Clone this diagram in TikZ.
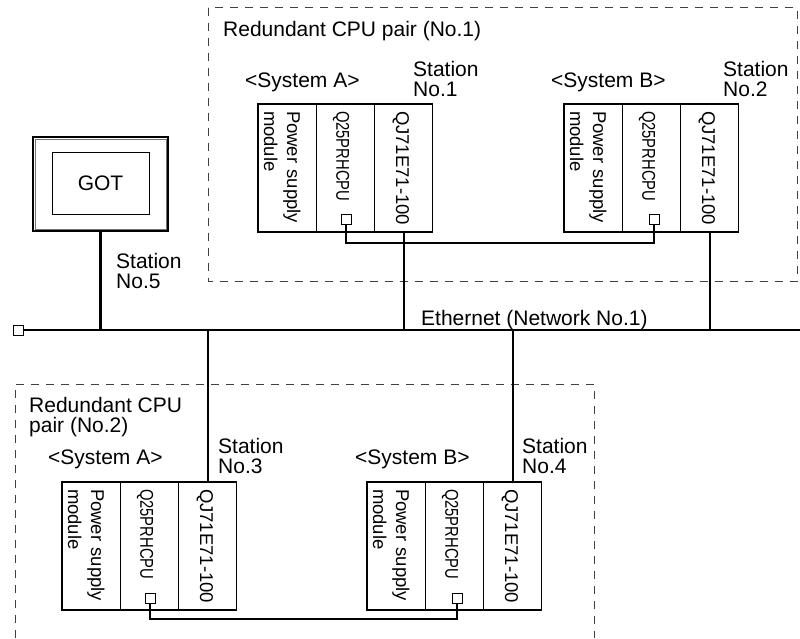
\documentclass[tikz,border=0pt]{standalone}
\usepackage{fontspec}
\setmainfont{Liberation Sans}
\usetikzlibrary{positioning}
\newcommand{\lblfont}{\fontsize{21}{20}\selectfont}
\newcommand{\modfont}{\fontsize{18.5}{23}\selectfont}
\newcommand{\cpuname}{\scalebox{0.8}[1]{Q25PRHCPU}}

\begin{document}
\begin{tikzpicture}[x=1pt, y=-1pt,
  slot/.style={draw, line width=1.1pt, rotate=-90, minimum width=128pt, minimum height=58.3pt,
    inner xsep=7pt, inner ysep=0pt, text width=114pt, align=left, font=\modfont},
  psu/.style={slot, text height=23.4pt},
  cpu/.style={slot, text height=19pt, text depth=0.6pt},
  enet/.style={slot, text height=19pt},
  port/.style={draw, line width=1pt, minimum size=10pt, inner sep=0pt, fill=white},
  link/.style={line width=2.4pt},
  lbl/.style={inner sep=0pt, font=\lblfont, align=left},
  pairbox/.style={draw=black!75, line width=0.9pt, dash pattern=on 8pt off 7pt}]
\useasboundingbox (0,0) rectangle (800,638);
% redundant pair No.1
\draw[pairbox] (208,7.5) rectangle (797,281);
\node[lbl, anchor=base west] (pair1) at (223,36) {Redundant CPU pair (No.1)};
\node[lbl, anchor=base west] (a1sys) at (245,87) {<System A>};
\node[lbl, anchor=north west] (st1) at (413,61) {Station\\No.1};
\node[psu] (a1ps) at (287.15,168) {Power supply\\module};
\node[cpu] (a1cpu) at (345.45,168) {\cpuname};
\node[enet] (a1et) at (403.75,168) {\mbox{QJ71E71-100}};
\node[port] (a1port) at (346,219.5) {};
\node[lbl, anchor=base west] (b1sys) at (551,87) {<System B>};
\node[lbl, anchor=north west] (st2) at (723,61) {Station\\No.2};
\node[psu] (b1ps) at (593.15,168) {Power supply\\module};
\node[cpu] (b1cpu) at (651.45,168) {\cpuname};
\node[enet] (b1et) at (709.75,168) {\mbox{QJ71E71-100}};
\node[port] (b1port) at (654,219.5) {};
\draw[link] (a1port.south) -- ++(0,18) -| (b1port.south);
% GOT
\node[draw, line width=2pt, minimum width=135pt, minimum height=94pt] (got) at (100.5,184) {};
\draw[black!55, line width=0.6pt] ([shift={(3,3)}]got.north west) rectangle ([shift={(-3,-3)}]got.south east);
\node[draw, line width=0.9pt, minimum width=97pt, minimum height=62pt, font=\lblfont] (gotscr) at (100.5,183) {GOT};
\node[lbl, anchor=north west] (st5) at (116,253) {Station\\No.5};
% Ethernet
\node[port] (ethend) at (18.5,330) {};
\coordinate (ethr) at (800,330);
\draw[link] (ethend.east) -- (ethr);
\node[lbl, anchor=base west] (ethlbl) at (421,325) {Ethernet (Network No.1)};
\draw[link] (got.south) -- (got.south |- ethr);
\draw[link] (a1et.east) -- (a1et.east |- ethr);
\draw[link] (b1et.east) -- (b1et.east |- ethr);
% redundant pair No.2
\draw[pairbox] (15,638) -- (15,384) -- (594,384) -- (594,638);
\node[lbl, anchor=north west] (pair2) at (29,397) {Redundant CPU\\pair (No.2)};
\node[lbl, anchor=base west] (a2sys) at (48,464) {<System A>};
\node[lbl, anchor=north west] (st3) at (218,438) {Station\\No.3};
\node[psu] (a2ps) at (91.15,546) {Power supply\\module};
\node[cpu] (a2cpu) at (149.45,546) {\cpuname};
\node[enet] (a2et) at (207.75,546) {\mbox{QJ71E71-100}};
\node[port] (a2port) at (150,598.5) {};
\node[lbl, anchor=base west] (b2sys) at (355,464) {<System B>};
\node[lbl, anchor=north west] (st4) at (522,438) {Station\\No.4};
\node[psu] (b2ps) at (396.15,546) {Power supply\\module};
\node[cpu] (b2cpu) at (454.45,546) {\cpuname};
\node[enet] (b2et) at (512.75,546) {\mbox{QJ71E71-100}};
\node[port] (b2port) at (457,598.5) {};
\draw[link] (a2port.south) -- ++(0,15) -| (b2port.south);
\draw[link] (a2et.west) -- (a2et.west |- ethr);
\draw[link] (b2et.west) -- (b2et.west |- ethr);
\end{tikzpicture}
\end{document}
